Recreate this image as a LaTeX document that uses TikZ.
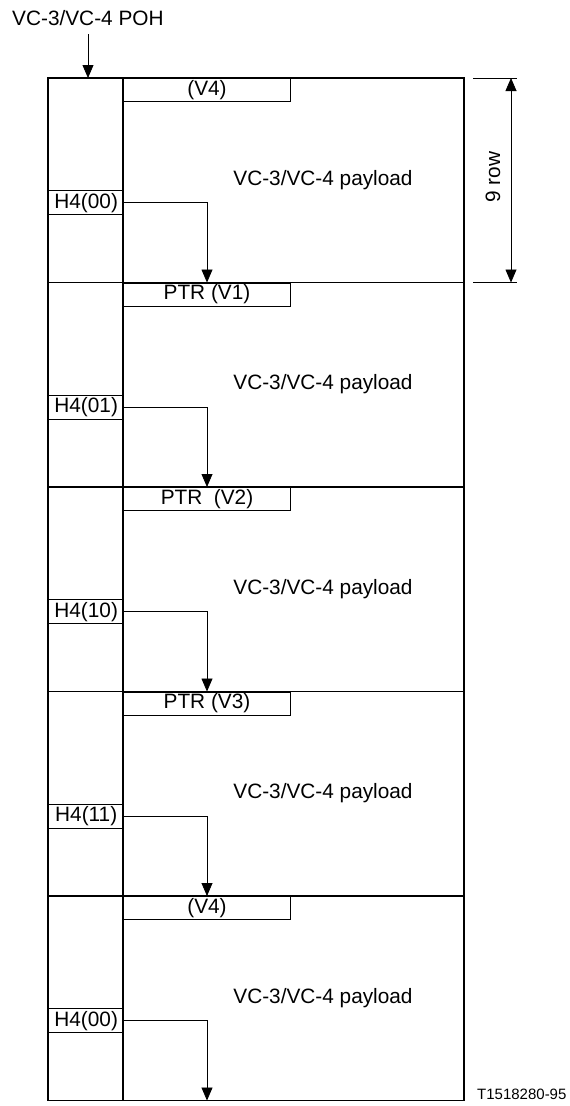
\documentclass[tikz,border=0pt]{standalone}
\usepackage{fontspec}
\setmainfont{Liberation Sans}
\usetikzlibrary{arrows.meta}
\begin{document}
\begin{tikzpicture}[x=1pt,y=-1pt,
  lbl/.style={font=\fontsize{20.8}{24}\selectfont, inner sep=0pt},
  hbox/.style={draw, line width=1.4pt, minimum width=75pt, minimum height=24pt, inner sep=0pt, anchor=north west, lbl},
  pbox/.style={draw, line width=1pt, minimum width=167pt, minimum height=23pt, inner sep=0pt, anchor=north west, lbl},
  tip/.style={line width=0.8pt, -{Triangle[width=11pt,length=13pt]}},
  dtip/.style={line width=0.8pt, {Triangle[width=11pt,length=13pt]}-{Triangle[width=11pt,length=13pt]}},
  frameline/.style={line width=1.6pt},
  thinline/.style={line width=0.8pt}]
\useasboundingbox (0,0) rectangle (570,1106);
% outer frame and column divider
\draw[line width=1.2pt] (48,78) rectangle (464,1100.5);
\draw[frameline] (123,78) -- (123,1100.5);
\foreach \i in {1,2,3,4}{
  \pgfmathsetmacro\t{78+204.5*\i}
  \draw[frameline] (48,\t) -- (464,\t);
}
% frames
\foreach \i/\h/\p in {0/00/{(V4)}, 1/01/{PTR (V1)}, 2/10/{PTR~~(V2)}, 3/11/{PTR (V3)}, 4/00/{(V4)}}{
  \pgfmathsetmacro\t{78+204.5*\i}
  \node[pbox] (p\i) at (123,\t) {\p};
  \node[hbox] (h\i) at (48,\t+112) {H4(\h)};
  \node[lbl] (pl\i) at (323,\t+102) {VC-3/VC-4 payload};
  \coordinate (t\i) at (207,\t+204.5);
  \draw[tip] (h\i.east) -| (t\i);
}
% POH label
\node[lbl, anchor=west] (poh) at (12,18) {VC-3/VC-4 POH};
\coordinate (pohs) at (88,34);
\coordinate (pohe) at (88,78);
\draw[tip] (pohs) -- (pohe);
% 9 row dimension
\coordinate (e1a) at (473,78);
\coordinate (e1b) at (517,78);
\coordinate (e2a) at (473,282.5);
\coordinate (e2b) at (517,282.5);
\draw[thinline] (e1a) -- (e1b);
\draw[thinline] (e2a) -- (e2b);
\coordinate (d1) at (511,78);
\coordinate (d2) at (511,282.5);
\draw[dtip] (d1) -- (d2);
\node[lbl, rotate=90] (nr) at (493,177) {9 row};
% tag
\node[font=\fontsize{15}{18}\selectfont, inner sep=0pt, anchor=west] (tag) at (477,1094) {T1518280-95};
\end{tikzpicture}
\end{document}
